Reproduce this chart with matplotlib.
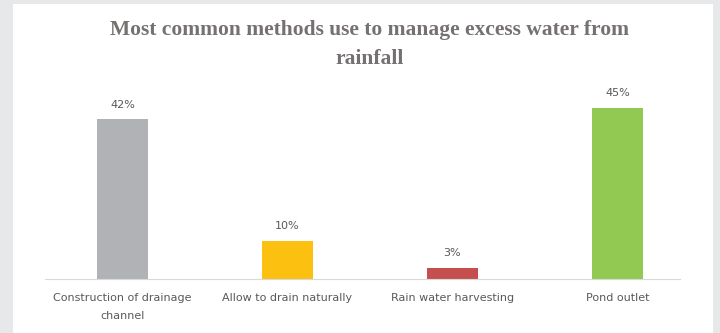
import matplotlib.pyplot as plt
from matplotlib.patches import Rectangle

categories = ['Construction of drainage\nchannel', 'Allow to drain naturally',
              'Rain water harvesting', 'Pond outlet']
values = [42, 10, 3, 45]
colors = ['#b1b2b6', '#fbc010', '#c44f4c', '#92c952']

fig = plt.figure(figsize=(7.2, 3.33), dpi=100)
fig.patch.set_facecolor('#e7e8ea')
fig.patches.append(Rectangle((13 / 720, 0), 700 / 720, 1 - 4 / 333,
                             transform=fig.transFigure, facecolor='white',
                             edgecolor='none', zorder=-10))

ax = fig.add_axes([40 / 720, 54 / 333, 660 / 720, 190 / 333])
ax.set_zorder(5)
ax.set_facecolor('none')
x = range(len(categories))
bars = ax.bar(x, values, width=0.315, color=colors)
ax.set_xlim(-0.5, 3.5)
ax.set_ylim(0, 50)

for b, v in zip(bars, values):
    ax.annotate('{}%'.format(v), (b.get_x() + b.get_width() / 2, v),
                xytext=(0, 7), textcoords='offset points', ha='center',
                va='bottom', fontsize=8, color='#595959')

ax.set_xticks(list(x))
ax.set_xticklabels(categories, fontsize=8, color='#595959', linespacing=2.0)
ax.tick_params(axis='x', length=0, pad=10)
ax.set_yticks([])
for s in ['top', 'right', 'left']:
    ax.spines[s].set_visible(False)
ax.spines['bottom'].set_color('#d9d9d9')
ax.spines['bottom'].set_bounds(-0.47, 3.38)

fig.text(370 / 720, 1 - 44 / 333, 'Most common methods use to manage excess water from\nrainfall',
         ha='center', va='center', fontsize=15.5, fontweight='bold',
         color='#767171', family='Liberation Serif', linespacing=1.6,
         zorder=6)

fig.savefig('out.png', dpi=100, facecolor=fig.get_facecolor())
